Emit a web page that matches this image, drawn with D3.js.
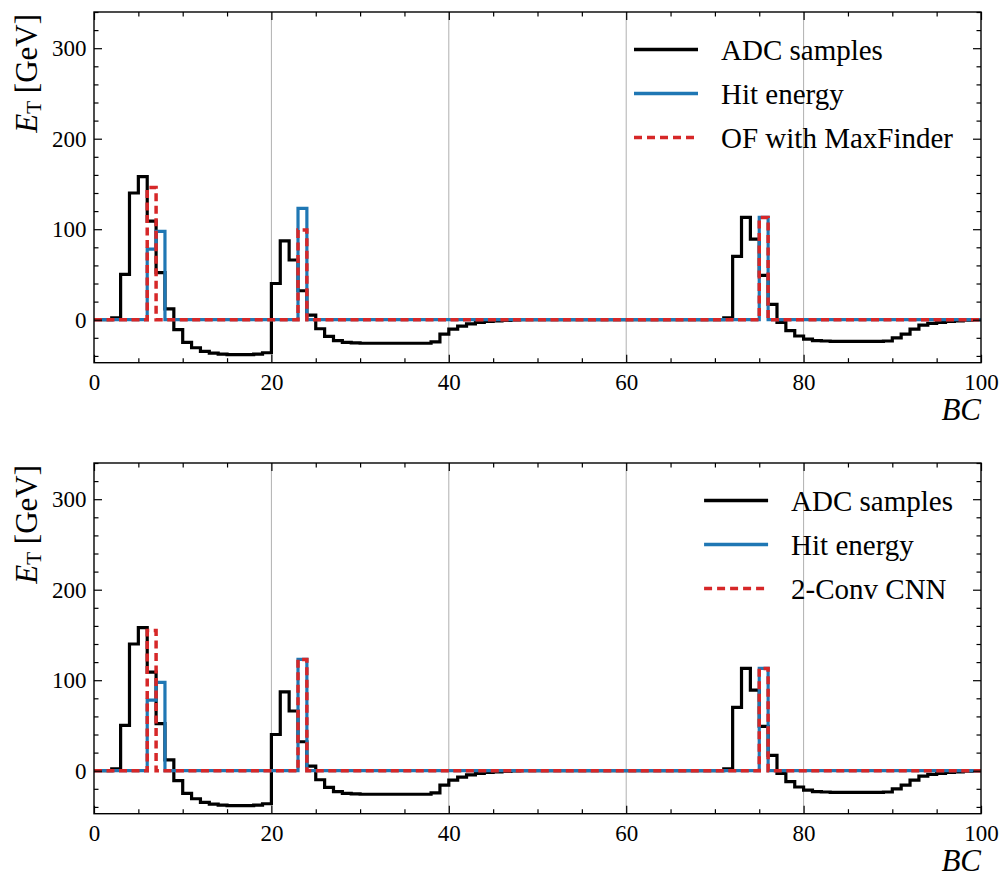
<!DOCTYPE html>
<html><head><meta charset="utf-8">
<script src="https://cdn.jsdelivr.net/npm/d3@7"></script>
<style>
body{margin:0;background:#fff}
</style>
</head><body>
<svg id="chart" width="1003" height="877"></svg>
<script>
// ---------------- data ----------------
const bcIndex = d3.range(0, 100);
const adcSamples = [
  0, 0, 2, 50, 140, 158, 109, 52, 12, -11,
  -25, -31, -35, -37, -38, -38.5, -38.5, -38.5, -38, -36.5,
  40, 87, 66, 32, 5, -10, -18.5, -23, -25, -25.5,
  -26, -26, -26, -26, -26, -26, -26, -26, -24.5, -16,
  -10.5, -7, -4.5, -3, -2, -1.2, -0.7, -0.3, 0, 0,
  0, 0, 0, 0, 0, 0, 0, 0, 0, 0,
  0, 0, 0, 0, 0, 0, 0, 0, 0, 0,
  0, 2, 70, 113, 89, 49, 17, -3, -12, -18,
  -21.5, -23, -23.5, -24, -24, -24, -24, -24, -24, -23.5,
  -20, -16, -10.5, -6, -4, -3, -2, -1.2, -0.6, -0.2
];
const hitEnergy = [
  0, 0, 0, 0, 0, 0, 78, 97.5, 0, 0,
  0, 0, 0, 0, 0, 0, 0, 0, 0, 0,
  0, 0, 0, 123, 0, 0, 0, 0, 0, 0,
  0, 0, 0, 0, 0, 0, 0, 0, 0, 0,
  0, 0, 0, 0, 0, 0, 0, 0, 0, 0,
  0, 0, 0, 0, 0, 0, 0, 0, 0, 0,
  0, 0, 0, 0, 0, 0, 0, 0, 0, 0,
  0, 0, 0, 0, 0, 113, 0, 0, 0, 0,
  0, 0, 0, 0, 0, 0, 0, 0, 0, 0,
  0, 0, 0, 0, 0, 0, 0, 0, 0, 0
];
const ofMaxFinder = [
  0, 0, 0, 0, 0, 0, 146, 0, 0, 0,
  0, 0, 0, 0, 0, 0, 0, 0, 0, 0,
  0, 0, 0, 99, 0, 0, 0, 0, 0, 0,
  0, 0, 0, 0, 0, 0, 0, 0, 0, 0,
  0, 0, 0, 0, 0, 0, 0, 0, 0, 0,
  0, 0, 0, 0, 0, 0, 0, 0, 0, 0,
  0, 0, 0, 0, 0, 0, 0, 0, 0, 0,
  0, 0, 0, 0, 0, 113, 0, 0, 0, 0,
  0, 0, 0, 0, 0, 0, 0, 0, 0, 0,
  0, 0, 0, 0, 0, 0, 0, 0, 0, 0
];
const cnn2Conv = [
  0, 0, 0, 0, 0, 0, 155, 0, 0, 0,
  0, 0, 0, 0, 0, 0, 0, 0, 0, 0,
  0, 0, 0, 123, 0, 0, 0, 0, 0, 0,
  0, 0, 0, 0, 0, 0, 0, 0, 0, 0,
  0, 0, 0, 0, 0, 0, 0, 0, 0, 0,
  0, 0, 0, 0, 0, 0, 0, 0, 0, 0,
  0, 0, 0, 0, 0, 0, 0, 0, 0, 0,
  0, 0, 0, 0, 0, 113, 0, 0, 0, 0,
  0, 0, 0, 0, 0, 0, 0, 0, 0, 0,
  0, 0, 0, 0, 0, 0, 0, 0, 0, 0
];
const xTicks = [0, 20, 40, 60, 80, 100];
const xMinorTicks = d3.range(0, 101, 5);
const yTicks = [0, 100, 200, 300];
const yMinorTicks = d3.range(-40, 341, 20);
const gridBC = [20, 40, 60, 80];
const seriesLabels = ["ADC samples", "Hit energy"];
const predLabels = ["OF with MaxFinder", "2-Conv CNN"];
const xDomain = [0, 100];
const yDomain = [-47.5, 340];

// ---------------- layout ----------------
const FONT = "'Liberation Serif', 'DejaVu Serif', serif";
const svg = d3.select("#chart");
const X0 = 94, X1 = 981, PH = 350.7;
const panelTops = [12, 463];
const colors = {adc: "#000000", hit: "#1f77b4", pred: "#d62728"};

const x = d3.scaleLinear().domain(xDomain).range([X0, X1]);

function stepData(vals) {
  const pts = bcIndex.map(i => [i, vals[i]]);
  pts.push([100, vals[vals.length - 1]]);
  return pts;
}

panelTops.forEach((top, pi) => {
  const bottom = top + PH;
  const y = d3.scaleLinear().domain(yDomain).range([bottom, top]);
  const g = svg.append("g");

  const clipId = "clip" + pi;
  svg.append("clipPath").attr("id", clipId).append("rect")
    .attr("x", X0).attr("y", top).attr("width", X1 - X0).attr("height", PH);

  // grid
  g.append("g").selectAll("line").data(gridBC).join("line")
    .attr("x1", d => x(d)).attr("x2", d => x(d))
    .attr("y1", top).attr("y2", bottom)
    .attr("stroke", "#b0b0b0").attr("stroke-width", 1);

  const line = d3.line().x(d => x(d[0])).y(d => y(d[1])).curve(d3.curveStepAfter);
  const plot = g.append("g").attr("clip-path", `url(#${clipId})`);
  plot.append("path").datum(stepData(adcSamples)).attr("d", line)
    .attr("fill", "none").attr("stroke", colors.adc).attr("stroke-width", 3.2);
  plot.append("path").datum(stepData(hitEnergy)).attr("d", line)
    .attr("fill", "none").attr("stroke", colors.hit).attr("stroke-width", 3.2);
  const pred = pi === 0 ? ofMaxFinder : cnn2Conv;
  plot.append("path").datum(stepData(pred)).attr("d", line)
    .attr("fill", "none").attr("stroke", colors.pred).attr("stroke-width", 3.5)
    .attr("stroke-dasharray", "8,4.5");

  // axes
  const fs = 23;
  const minorX = xMinorTicks.filter(v => !xTicks.includes(v));
  const minorY = yMinorTicks.filter(v => !yTicks.includes(v));
  const gB = g.append("g").attr("transform", `translate(0,${bottom})`)
    .call(d3.axisBottom(x).tickValues(xTicks).tickSizeInner(-8).tickSizeOuter(0).tickPadding(11).tickFormat(d3.format("d")));
  gB.selectAll("text").style("font-size", fs + "px");
  g.append("g").attr("transform", `translate(0,${bottom})`)
    .call(d3.axisBottom(x).tickValues(minorX).tickSizeInner(-4.5).tickSizeOuter(0).tickFormat(""));
  g.append("g").attr("transform", `translate(0,${top})`)
    .call(d3.axisTop(x).tickValues(xTicks).tickSizeInner(-8).tickSizeOuter(0).tickFormat(""));
  g.append("g").attr("transform", `translate(0,${top})`)
    .call(d3.axisTop(x).tickValues(minorX).tickSizeInner(-4.5).tickSizeOuter(0).tickFormat(""));

  const gL = g.append("g").attr("transform", `translate(${X0},0)`)
    .call(d3.axisLeft(y).tickValues(yTicks).tickSizeInner(-8).tickSizeOuter(0).tickPadding(7.5).tickFormat(d3.format("d")));
  gL.selectAll("text").style("font-size", fs + "px");
  g.append("g").attr("transform", `translate(${X0},0)`)
    .call(d3.axisLeft(y).tickValues(minorY).tickSizeInner(-4.5).tickSizeOuter(0).tickFormat(""));
  g.append("g").attr("transform", `translate(${X1},0)`)
    .call(d3.axisRight(y).tickValues(yTicks).tickSizeInner(-8).tickSizeOuter(0).tickFormat(""));
  g.append("g").attr("transform", `translate(${X1},0)`)
    .call(d3.axisRight(y).tickValues(minorY).tickSizeInner(-4.5).tickSizeOuter(0).tickFormat(""));

  g.selectAll(".domain").remove();
  g.selectAll(".tick line").attr("stroke", "#000").attr("stroke-width", 1.2);

  // frame
  g.append("rect").attr("x", X0).attr("y", top).attr("width", X1 - X0).attr("height", PH)
    .attr("fill", "none").attr("stroke", "#000").attr("stroke-width", 1.4);

  // axis labels
  const yl = g.append("text")
    .attr("transform", `translate(37,${top + 2}) rotate(-90)`)
    .attr("text-anchor", "end").style("font-family", FONT).style("font-size", "31px");
  yl.append("tspan").style("font-style", "italic").text("E");
  yl.append("tspan").style("font-size", "21px").attr("dy", 4).text("T");
  yl.append("tspan").attr("dy", -4).text("\u00a0[GeV]");

  g.append("text").attr("x", X1).attr("y", bottom + 57)
    .attr("text-anchor", "end").style("font-family", FONT).style("font-size", "31px")
    .style("font-style", "italic").text("BC");

  // legend
  const items = [
    {label: seriesLabels[0], color: colors.adc, dash: null, w: 3.6},
    {label: seriesLabels[1], color: colors.hit, dash: null, w: 3.6},
    {label: predLabels[pi], color: colors.pred, dash: "8,5", w: 3.6}
  ];
  const lg = g.append("g");
  const texts = lg.selectAll("text").data(items).join("text")
    .style("font-family", FONT).style("font-size", "29px").text(d => d.label);
  let maxW = 0;
  texts.each(function() { maxW = Math.max(maxW, this.getComputedTextLength()); });
  const textX = X1 - 28 - maxW;
  texts.attr("x", textX).attr("y", (d, i) => top + 37.5 + i * 44 + 10.5);
  lg.selectAll("line").data(items).join("line")
    .attr("x1", textX - 87).attr("x2", textX - 23)
    .attr("y1", (d, i) => top + 37.5 + i * 44).attr("y2", (d, i) => top + 37.5 + i * 44)
    .attr("stroke", d => d.color).attr("stroke-width", d => d.w)
    .attr("stroke-dasharray", d => d.dash);
});

svg.selectAll("text").style("font-family", FONT).style("fill", "#000");
</script>
</body></html>
